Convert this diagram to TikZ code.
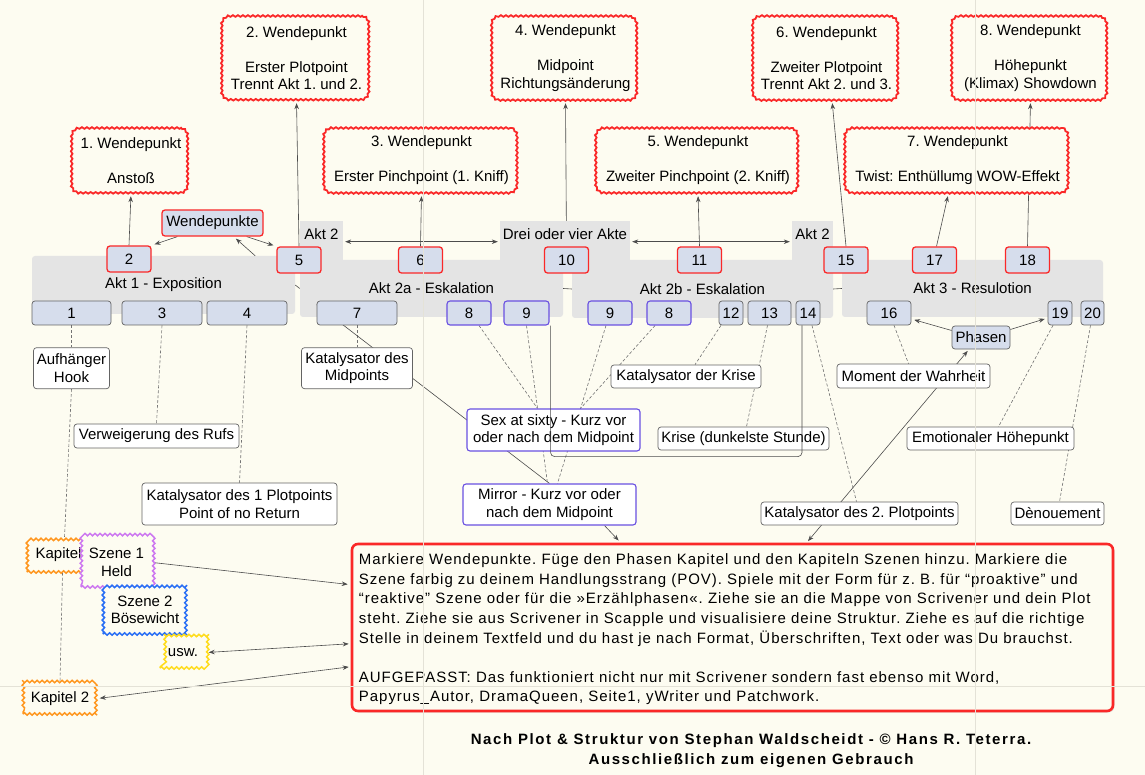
\documentclass[tikz,border=0pt]{standalone}
\usepackage{fontspec}
\setmainfont{Liberation Sans}
\newfontfamily\widefont[LetterSpace=6.5]{Liberation Sans}
\newfontfamily\creditfont[LetterSpace=10.7]{Liberation Sans}
\usepackage{tikz}
\usetikzlibrary{arrows.meta, positioning, calc, backgrounds, shadows, decorations.pathmorphing}

\definecolor{paper}{RGB}{253,252,241}
\definecolor{panelgray}{RGB}{228,228,228}
\definecolor{boxblue}{RGB}{214,221,236}
\definecolor{boxline}{RGB}{100,100,100}
\definecolor{wpred}{RGB}{250,40,40}
\definecolor{povviolet}{RGB}{105,80,225}
\definecolor{heldviolet}{RGB}{205,120,240}
\definecolor{boeseblue}{RGB}{40,110,245}
\definecolor{uswyellow}{RGB}{255,220,30}
\definecolor{kapitelorange}{RGB}{255,150,30}
\definecolor{guide}{RGB}{228,226,215}

\begin{document}
\frenchspacing
\begin{tikzpicture}[
    x=1pt, y=-1pt,
    font=\fontsize{15}{17.5}\selectfont,
    wp/.style={fill=paper, rounded corners=8pt, align=center, inner sep=0pt,
        postaction={draw=wpred, line width=1.8pt, sharp corners, decorate, decoration={snake, segment length=5pt, amplitude=0.8pt}}},
    panel/.style={fill=panelgray, rounded corners=3pt, inner sep=0pt},
    tab/.style={fill=panelgray, inner sep=0pt, anchor=north, text height=18.5pt, text depth=22.5pt},
    nrbox/.style={draw=boxline, fill=boxblue, rounded corners=3pt, line width=0.7pt, minimum height=24pt, inner sep=0pt},
    nrred/.style={nrbox, draw=wpred, line width=1.3pt, minimum width=44pt, minimum height=26pt},
    nrpov/.style={nrbox, draw=povviolet, line width=1.1pt},
    note/.style={draw=boxline, fill=white, rounded corners=3pt, line width=0.7pt, align=center, inner sep=0pt},
    notepov/.style={note, draw=povviolet, line width=1.1pt},
    wave/.style={fill=paper, line width=1.5pt, decorate, decoration={snake, segment length=5pt, amplitude=1.2pt}, align=center, inner sep=0pt},
    bigbox/.style={draw=wpred, line width=2.6pt, fill=paper, rounded corners=6pt, drop shadow={opacity=0.2, shadow xshift=1.5pt, shadow yshift=-1.5pt}},
    link/.style={draw=black!70, line width=0.6pt},
    hint/.style={draw=black!55, line width=0.6pt, dash pattern=on 3pt off 2pt},
    arr/.style={link, -{Stealth[length=6pt, width=4.5pt]}, shorten >=3pt},
    twoway/.style={link, {Stealth[length=6pt, width=4.5pt]}-{Stealth[length=6pt, width=4.5pt]}, shorten >=2pt, shorten <=2pt},
    guideline/.style={draw=guide, line width=0.6pt}
]
    \begin{scope}[on background layer]
        \fill[paper] (0,0) rectangle (1145,775);
        \node[panel, minimum width=263pt, minimum height=58pt] (akt1) at (163.5,285) {Akt 1 - Exposition};
        \node[panel, minimum width=263pt, minimum height=57pt] (akt2a) at (431.5,288.5) {Akt 2a - Eskalation};
        \node[panel, minimum width=261pt, minimum height=58pt] (akt2b) at (702.5,289) {Akt 2b - Eskalation};
        \node[panel, minimum width=261pt, minimum height=57pt] (akt3) at (972.5,288.5) {Akt 3 - Resulotion};
    \end{scope}
    \useasboundingbox (0,0) rectangle (1145,775);

    % Wendepunkte oben
    \node[wp, minimum width=147pt, minimum height=84pt] (wp2) at (296.5,58) {2. Wendepunkt\\[17.5pt]Erster Plotpoint\\Trennt Akt 1. und 2.};
    \node[wp, minimum width=145pt, minimum height=84pt] (wp4) at (565.5,58) {4. Wendepunkt\\[17.5pt]Midpoint\\Richtungsänderung};
    \node[wp, minimum width=145pt, minimum height=84pt] (wp6) at (826.5,58) {6. Wendepunkt\\[17.5pt]Zweiter Plotpoint\\Trennt Akt 2. und 3.};
    \node[wp, minimum width=155pt, minimum height=84pt] (wp8) at (1030.5,58) {8. Wendepunkt\\[17.5pt]Höhepunkt\\(Klimax) Showdown};
    \node[wp, minimum width=116pt, minimum height=65pt] (wp1) at (131,160.5) {1. Wendepunkt\\[17.5pt]Anstoß};
    \node[wp, minimum width=193pt, minimum height=65pt] (wp3) at (421.5,160.5) {3. Wendepunkt\\[17.5pt]Erster Pinchpoint (1. Kniff)};
    \node[wp, minimum width=202pt, minimum height=65pt] (wp5) at (698,160.5) {5. Wendepunkt\\[17.5pt]Zweiter Pinchpoint (2. Kniff)};
    \node[wp, minimum width=223pt, minimum height=65pt] (wp7) at (957.5,160.5) {7. Wendepunkt\\[17.5pt]Twist: Enthüllumg WOW-Effekt};

    % Akte
    \node[tab, minimum width=43pt] (akt2l) at (321.5,221) {Akt 2};
    \node[tab, minimum width=130pt] (dreivier) at (565,221) {Drei oder vier Akte};
    \node[tab, minimum width=41pt] (akt2r) at (812.5,221) {Akt 2};

    \node[nrred, minimum width=101pt] (wendep) at (212.5,223) {Wendepunkte};
    \node[nrred] (n2) at (129,259) {2};
    \node[nrred] (n5) at (299,260) {5};
    \node[nrred] (n6) at (420.5,260) {6};
    \node[nrred] (n10) at (566.5,260) {10};
    \node[nrred] (n11) at (699.5,260) {11};
    \node[nrred] (n15) at (846,260) {15};
    \node[nrred] (n17) at (934.5,260) {17};
    \node[nrred] (n18) at (1027.5,260) {18};

    % Kapitel
    \node[nrbox, minimum width=79pt] (n1) at (71.5,313) {1};
    \node[nrbox, minimum width=80pt] (n3) at (162,313) {3};
    \node[nrbox, minimum width=80pt] (n4) at (247,313) {4};
    \node[nrbox, minimum width=80pt] (n7) at (357,313) {7};
    \node[nrpov, minimum width=44pt] (n8a) at (469,313) {8};
    \node[nrpov, minimum width=45pt] (n9a) at (526.5,313) {9};
    \node[nrpov, minimum width=44pt] (n9b) at (610,313) {9};
    \node[nrpov, minimum width=44pt] (n8b) at (669,313) {8};
    \node[nrbox, minimum width=24pt] (n12) at (731,313) {12};
    \node[nrbox, minimum width=43pt] (n13) at (769.5,313) {13};
    \node[nrbox, minimum width=24pt] (n14) at (808,313) {14};
    \node[nrbox, minimum width=44pt] (n16) at (889,313) {16};
    \node[nrbox, minimum width=24pt] (n19) at (1060,313) {19};
    \node[nrbox, minimum width=23pt] (n20) at (1092.5,313) {20};
    \node[nrbox, minimum width=58pt, minimum height=23pt] (phasen) at (981,337.5) {Phasen};

    % Notizen
    \node[note, minimum width=76pt, minimum height=41pt, below=22pt of n1] (hook) {Aufhänger\\Hook};
    \node[note, minimum width=165pt, minimum height=24pt] (ruf) at (156.5,436) {Verweigerung des Rufs};
    \node[note, minimum width=195pt, minimum height=42pt] (kat1) at (239.5,504) {Katalysator des 1 Plotpoints\\Point of no Return};
    \node[note, minimum width=111pt, minimum height=41pt, below=22pt of n7] (katmid) {Katalysator des\\Midpoints};
    \node[note, minimum width=150pt, minimum height=23pt] (katkrise) at (686,376.5) {Katalysator der Krise};
    \node[notepov, minimum width=173pt, minimum height=42pt] (sex) at (553.5,430) {Sex at sixty - Kurz vor\\oder nach dem Midpoint};
    \node[note, minimum width=171pt, minimum height=23pt] (krise) at (743.5,438.5) {Krise (dunkelste Stunde)};
    \node[notepov, minimum width=173pt, minimum height=41pt] (mirror) at (549.5,504.5) {Mirror - Kurz vor oder\\nach dem Midpoint};
    \node[note, minimum width=153pt, minimum height=24pt] (wahrheit) at (913.5,376) {Moment der Wahrheit};
    \node[note, minimum width=167pt, minimum height=23pt] (emo) at (990.5,438.5) {Emotionaler Höhepunkt};
    \node[note, minimum width=197pt, minimum height=23pt] (kat2) at (859.5,513.5) {Katalysator des 2. Plotpoints};
    \node[note, minimum width=93pt, minimum height=23pt] (denoue) at (1057.5,513.5) {Dènouement};

    % Szenen
    \node[wave, draw=kapitelorange, minimum width=63pt, minimum height=34pt] (kap1) at (58.5,555) {Kapitel};
    \node[wave, draw=heldviolet, minimum width=71pt, minimum height=49pt] (szene1) at (116.5,562.5) {Szene 1\\Held};
    \node[wave, draw=boeseblue, minimum width=84pt, minimum height=48pt] (szene2) at (145,610) {Szene 2\\Bösewicht};
    \node[wave, draw=uswyellow, minimum width=46pt, minimum height=31pt] (usw) at (183,652.5) {usw.};
    \node[wave, draw=kapitelorange, minimum width=74pt, minimum height=31pt] (kap2) at (60,698.5) {Kapitel 2};

    \node[bigbox, minimum width=761pt, minimum height=167pt] (big) at (732.5,627.5) {};
    \node[anchor=west, align=left, inner sep=0pt, font=\widefont\fontsize{15}{19.6}\selectfont] (bigtext) at ($(big.west)+(8,2)$) {Markiere Wendepunkte. Füge den Phasen Kapitel und den Kapiteln Szenen hinzu. Markiere die\\
Szene farbig zu deinem Handlungsstrang (POV). Spiele mit der Form für z. B. für “proaktive” und\\
“reaktive” Szene oder für die »Erzählphasen«. Ziehe sie an die Mappe von Scrivener und dein Plot\\
steht. Ziehe sie aus Scrivener in Scapple und visualisiere deine Struktur. Ziehe es auf die richtige\\
Stelle in deinem Textfeld und du hast je nach Format, Überschriften, Text oder was Du brauchst.\\[19.6pt]
AUFGEPASST: Das funktioniert nicht nur mit Scrivener sondern fast ebenso mit Word,\\
Papyrus\_Autor, DramaQueen, Seite1, yWriter und Patchwork.};

    \node[font=\creditfont\bfseries\fontsize{15}{20}\selectfont, align=center] (credit) at (751,751) {Nach Plot \& Struktur von Stephan Waldscheidt - © Hans R. Teterra.\\Ausschließlich zum eigenen Gebrauch};

    \begin{scope}[on background layer]
        % Pfeile zu den Wendepunkten
        \draw[arr] (n2.north) -- (wp1.south);
        \draw[arr] (n5.north) -- (wp2.south);
        \draw[arr] (n6.north) -- (wp3.south);
        \draw[arr] (n10.north) -- (wp4.south);
        \draw[arr] (n11.north) -- (wp5.south);
        \draw[arr] (n15.north) -- ($(wp6.south)+(5.5,0)$);
        \draw[arr] ($(n17.north)+(2,0)$) -- ($(wp7.south)+(-9,0)$);
        \draw[arr] (n18.north) -- (wp8.south);
        \draw[arr] ($(wendep.south west)+(16,0)$) -- (n2.north east);
        \draw[arr] ($(wendep.south east)+(-17,0)$) -- (n5.north west);
        \draw[arr] ($(akt1.north east)+(-40,0)$) -- ($(wendep.south east)+(-30,0)$);
        \draw[twoway] (akt2l) -- (dreivier);
        \draw[twoway] (dreivier) -- (akt2r);
        \draw[link] (akt1.east) -- (akt2a.west);
        \draw[link] (akt2a.east) -- (akt2b.west);
        \draw[link] (akt2b.east) -- (akt3.west);
        % Kapitel zu Notizen
        \draw[hint] (n1.south) -- (hook.north);
        \draw[hint] (hook.south) -- ($(kap1.north)+(6,0)$);
        \draw[hint] ($(kap1.south)+(4,0)$) -- (kap2.north);
        \draw[hint] (n3.south) -- (ruf.north);
        \draw[hint] (n4.south) -- (kat1.north);
        \draw[hint] (n7.south) -- (katmid.north);
        \draw[link] ($(n7.north west)+(0,4)$) -- (mirror.north);
        \draw[hint] ($(n8a.south)+(10,0)$) -- ($(sex.north)+(-16,0)$);
        \draw[hint] (n9a.south) -- ($(mirror.north)+(-2,0)$);
        \draw[hint] ($(n9b.south)+(-4,0)$) -- ($(mirror.north)+(8,0)$);
        \draw[hint] ($(n8b.south)+(-14,0)$) -- ($(sex.north)+(27,0)$);
        \draw[hint] ($(n12.south)+(-10,0)$) -- ($(katkrise.north)+(9,0)$);
        \draw[hint] ($(n13.south)+(-2,0)$) -- ($(krise.north)+(3,0)$);
        \draw[hint] ($(n14.south)+(4,0)$) -- ($(kat2.north)+(-3,0)$);
        \draw[hint] ($(n16.south)+(5,0)$) -- ($(wahrheit.north)+(-5,0)$);
        \draw[hint] ($(n19.south)+(-7,0)$) -- ($(emo.north)+(8,0)$);
        \draw[hint] ($(n20.south)+(-2,0)$) -- ($(denoue.north)+(2,0)$);
        % Phasen
        \draw[arr] ($(phasen.west)+(0,-7)$) -- ($(n16.east)+(0,6)$);
        \draw[arr] ($(phasen.east)+(0,-8)$) -- ($(n19.west)+(0,5)$);
        \draw[twoway] ($(big.north west)+(456,0)$) -- ($(phasen.south)+(-12,0)$);
        \draw[arr] ($(mirror.south)+(55,0)$) -- ($(big.north west)+(270,0)$);
        % Szenen zum Textfeld
        \draw[arr] (szene1.east) -- ($(big.north west)+(0,42)$);
        \draw[twoway] (usw.east) -- ($(big.north west)+(0,101)$);
        \draw[twoway] (kap2.east) -- ($(big.north west)+(0,124)$);
    \end{scope}

    \draw[link, rounded corners=4pt] ($(n9a.south east)+(1,0)$) -- ++(0,131) -| ($(n14.south)+(-6,0)$);

    \draw[guideline] (423,0) -- (423,775);
    \draw[guideline] (975,0) -- (975,775);
    \draw[guideline] (0,686) -- (1145,686);
\end{tikzpicture}
\end{document}
